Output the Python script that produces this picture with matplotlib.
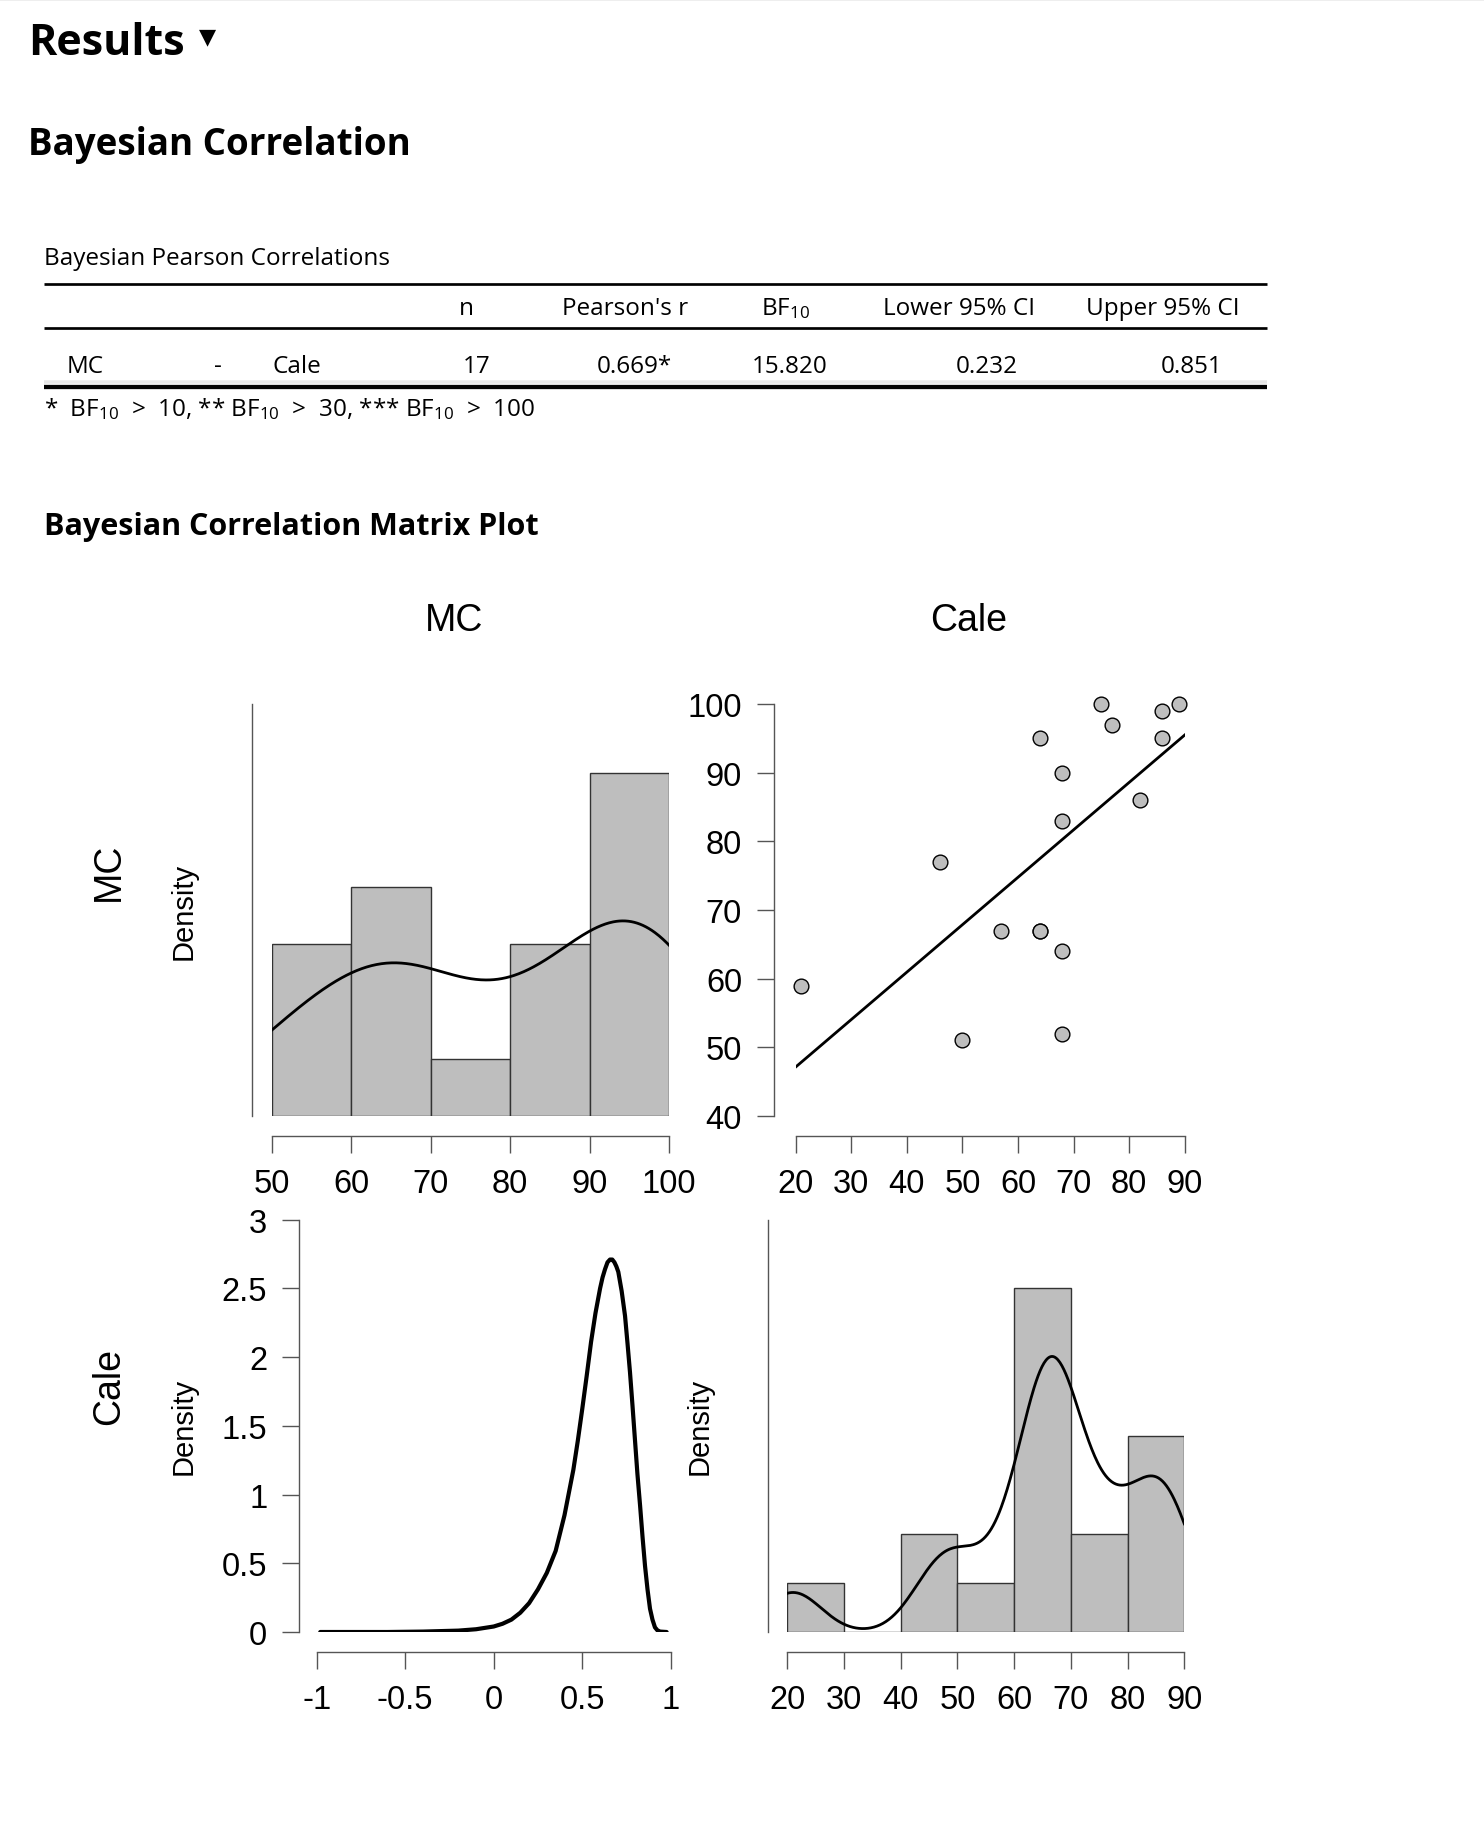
import numpy as np
import matplotlib
matplotlib.use("Agg")
import matplotlib.pyplot as plt
from matplotlib.lines import Line2D

plt.rcParams['font.family'] = ['Liberation Sans', 'DejaVu Sans']
plt.rcParams['axes.unicode_minus'] = False
plt.rcParams['mathtext.fontset'] = 'custom'
plt.rcParams['mathtext.rm'] = 'Open Sans'
plt.rcParams['mathtext.it'] = 'Open Sans:italic'
plt.rcParams['mathtext.bf'] = 'Open Sans:bold'

# DATA
cale = [21, 46, 50, 57, 64, 64, 64, 68, 68, 68, 68, 75, 77, 82, 86, 86, 89]
mc = [59, 77, 51, 67, 67, 67, 95, 64, 52, 90, 83, 100, 97, 86, 99, 95, 100]

mc_edges = [50, 60, 70, 80, 90, 100]
cale_edges = [20, 30, 40, 50, 60, 70, 80, 90]

rho_ticks = [-1, -0.5, 0, 0.5, 1]
rho_labels = ['-1', '-0.5', '0', '0.5', '1']
post_ticks = [0, 0.5, 1, 1.5, 2, 2.5, 3]
post_labels = ['0', '0.5', '1', '1.5', '2', '2.5', '3']

# posterior density of rho
rho_pts = [-0.98, -0.6, -0.4, -0.2, -0.1, 0.0, 0.05, 0.1, 0.15, 0.2, 0.25, 0.3,
           0.35, 0.4, 0.45, 0.475, 0.5, 0.525, 0.55, 0.575, 0.601, 0.615, 0.629,
           0.643, 0.657, 0.67, 0.682, 0.693, 0.704, 0.723, 0.742, 0.756, 0.77,
           0.784, 0.798, 0.812, 0.827, 0.841, 0.855, 0.869, 0.883, 0.897, 0.911,
           0.925, 0.94, 0.977]
post_dens = [0.0, 0.0, 0.003, 0.01, 0.02, 0.04, 0.06, 0.09, 0.14, 0.21, 0.31, 0.43,
             0.59, 0.85, 1.18, 1.39, 1.62, 1.86, 2.11, 2.32, 2.50, 2.58, 2.64,
             2.69, 2.71, 2.71, 2.69, 2.66, 2.62, 2.48, 2.30, 2.10, 1.89,
             1.65, 1.40, 1.15, 0.92, 0.69, 0.48, 0.31, 0.17, 0.09, 0.034,
             0.012, 0.003, 0.0]

table_title = "Bayesian Pearson Correlations"
table_header = ["n", "Pearson's r", "BF$_{10}$", "Lower 95% CI", "Upper 95% CI"]
table_row = ["MC", "-", "Cale", "17", "0.669*", "15.820", "0.232", "0.851"]
footnote = "*  BF$_{10}$  >  10, ** BF$_{10}$  >  30, *** BF$_{10}$  >  100"

W, H = 1484, 1840
AX_COL = '#555555'
BAR_COL = '#bebebe'
HEAD_FONT = 'Open Sans'

fig = plt.figure(figsize=(W / 100, H / 100), dpi=100)


def px_axes(x0, y0, x1, y1):
    return fig.add_axes([x0 / W, 1 - y1 / H, (x1 - x0) / W, (y1 - y0) / H])


def ftext(x, y, s, **kw):
    fig.text(x / W, 1 - y / H, s, **kw)


def hline(x0, x1, y, lw_px, color='black'):
    fig.add_artist(Line2D([x0 / W, x1 / W], [1 - y / H, 1 - y / H], lw=lw_px * 0.72,
                          color=color, transform=fig.transFigure, solid_capstyle='butt'))


def right_closed_density(x, edges):
    x = np.asarray(x)
    edges = np.asarray(edges)
    idx = np.clip(np.searchsorted(edges, x, side='left') - 1, 0, len(edges) - 2)
    counts = np.bincount(idx, minlength=len(edges) - 1)
    return counts / (len(x) * np.diff(edges))


def kde(x, grid):
    # gaussian kernel, R's default bandwidth (bw.nrd0)
    x = np.asarray(x, float)
    q75, q25 = np.percentile(x, [75, 25])
    h = 0.9 * min(x.std(ddof=1), (q75 - q25) / 1.34) * len(x) ** -0.2
    z = (grid[:, None] - x[None, :]) / h
    return np.exp(-0.5 * z ** 2).sum(1) / (len(x) * h * np.sqrt(2 * np.pi))


def r_style(ax, left_out, bottom_out, xticks, xlabels, yticks=None, ylabels=None):
    ax.patch.set_visible(False)
    for s in ('top', 'right'):
        ax.spines[s].set_visible(False)
    for s in ('left', 'bottom'):
        ax.spines[s].set_color(AX_COL)
        ax.spines[s].set_linewidth(1)
    ax.spines['left'].set_position(('outward', left_out * 0.72))
    ax.spines['bottom'].set_position(('outward', bottom_out * 0.72))
    ax.set_xticks(xticks)
    ax.set_xticklabels(xlabels)
    ax.spines['bottom'].set_bounds(xticks[0], xticks[-1])
    if yticks is None:
        ax.set_yticks([])
    else:
        ax.set_yticks(yticks)
        ax.set_yticklabels(ylabels)
        ax.spines['left'].set_bounds(yticks[0], yticks[-1])
    ax.tick_params(axis='both', direction='out', length=12, width=1, color=AX_COL,
                   labelsize=23.5, labelcolor='black')
    ax.tick_params(axis='x', pad=11)
    ax.tick_params(axis='y', pad=11)


def hist_panel(ax, x, edges):
    dens = right_closed_density(x, edges)
    ax.bar(edges[:-1], dens, width=np.diff(edges), align='edge', color=BAR_COL,
           edgecolor='#333333', linewidth=1, zorder=1)
    grid = np.linspace(edges[0], edges[-1], 400)
    ax.plot(grid, kde(x, grid), color='black', lw=2.0, zorder=2)
    ax.set_xlim(edges[0], edges[-1])
    ax.set_ylim(0, 1.2 * dens.max())


# ---- headings ----
hline(0, W, 1, 2, '#eeeeee')
ftext(28, 55, "Results", fontsize=31, fontweight='bold', family=HEAD_FONT, va='baseline')
ftext(199, 43, "\u25BC", fontsize=16, family='DejaVu Sans', va='baseline')
ftext(28, 155, "Bayesian Correlation", fontsize=26.5, fontweight='bold', family=HEAD_FONT,
      va='baseline')

# ---- table ----
ftext(44, 265, table_title, fontsize=17.5, family=HEAD_FONT, va='baseline')
hline(44, 1267, 284.5, 2.7)
hline(44, 1267, 329, 2.7)
hline(44, 1267, 383, 3.5, '#e6e6e6')
hline(44, 1267, 388, 4.3)

head_x = [466, 625, 785, 959, 1163]
for hx, h in zip(head_x, table_header):
    ftext(hx, 315, h, fontsize=17.5, family=HEAD_FONT, ha='center', va='baseline')

ftext(67, 373, table_row[0], fontsize=17.5, family=HEAD_FONT, va='baseline')
ftext(218, 373, table_row[1], fontsize=17.5, family=HEAD_FONT, ha='center', va='baseline')
ftext(273, 373, table_row[2], fontsize=17.5, family=HEAD_FONT, va='baseline')
row_right = [491, 672, 828, 1018, 1222]
for rx, v in zip(row_right, table_row[3:]):
    ftext(rx, 373, v, fontsize=17.5, family=HEAD_FONT, ha='right', va='baseline')

ftext(44, 416, footnote, fontsize=17.5, family=HEAD_FONT, va='baseline')

ftext(44, 535, "Bayesian Correlation Matrix Plot", fontsize=22, fontweight='bold',
      family=HEAD_FONT, va='baseline')

# ---- matrix plot labels ----
ftext(454, 621, "MC", fontsize=27, ha='center', va='center')
ftext(969, 621, "Cale", fontsize=27, ha='center', va='center')
ftext(109, 872, "MC", fontsize=27, rotation=90, ha='center', va='center')
ftext(109, 1387, "Cale", fontsize=27, rotation=90, ha='center', va='center')
ftext(184, 911, "Density", fontsize=21, rotation=90, ha='center', va='center')
ftext(184, 1426, "Density", fontsize=21, rotation=90, ha='center', va='center')
ftext(700, 1426, "Density", fontsize=21, rotation=90, ha='center', va='center')

# top-left: MC histogram
ax1 = px_axes(272, 705, 669, 1117)
hist_panel(ax1, mc, mc_edges)
r_style(ax1, 20, 20, mc_edges, [str(v) for v in mc_edges])

# top-right: scatter with regression line
ax2 = px_axes(795.7, 705, 1184.7, 1117)
slope, icpt = np.polyfit(cale, mc, 1)
xl = np.array([cale_edges[0], cale_edges[-1]])
ax2.plot(xl, icpt + slope * xl, color='black', lw=2.0, zorder=2)
ax2.plot(cale, mc, 'o', ms=10.6, mfc=BAR_COL, mec='black', mew=1, clip_on=False, zorder=3)
ax2.set_xlim(20, 90)
ax2.set_ylim(40, 100)
sc_yticks = [40, 50, 60, 70, 80, 90, 100]
r_style(ax2, 21.7, 20, cale_edges, [str(v) for v in cale_edges],
        sc_yticks, [str(v) for v in sc_yticks])

# bottom-left: posterior of rho
ax3 = px_axes(316.7, 1220.7, 670.7, 1633)
ax3.plot(rho_pts, post_dens, color='black', lw=3, solid_capstyle='round',
         solid_joinstyle='round')
ax3.set_xlim(-1, 1)
ax3.set_ylim(0, 3)
r_style(ax3, 17.4, 19.7, rho_ticks, rho_labels, post_ticks, post_labels)

# bottom-right: Cale histogram
ax4 = px_axes(787.3, 1220.7, 1184.3, 1633)
hist_panel(ax4, cale, cale_edges)
r_style(ax4, 19, 19.7, cale_edges, [str(v) for v in cale_edges])

fig.savefig("out.png", dpi=100, facecolor='white')
